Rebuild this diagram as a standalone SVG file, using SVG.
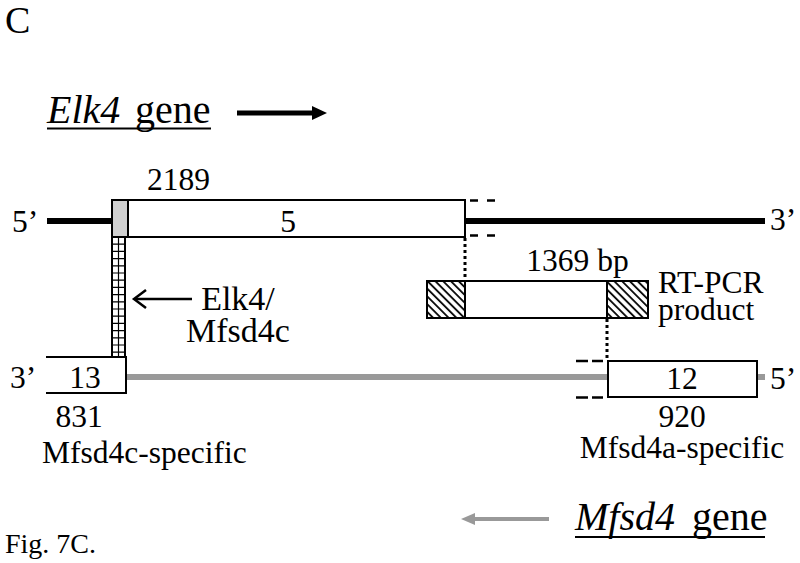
<svg xmlns="http://www.w3.org/2000/svg" width="800" height="563" viewBox="0 0 800 563">
<style>
text{font-family:"Liberation Serif","Times New Roman",serif;fill:#000}
.t{font-size:31.5px}
.big{font-size:40px}
.box{fill:#fff;stroke:#000;stroke-width:2}
.blk{stroke:#000;stroke-width:6;fill:none}
.gry{stroke:#999;stroke-width:6;fill:none}
.dash{stroke:#000;stroke-width:2.5;fill:none}
.dot{stroke:#000;stroke-width:3;stroke-dasharray:3 3;fill:none}
.edge{stroke:#000;stroke-width:2;fill:none}
</style>
<defs>
<pattern id="hatch" width="5.5" height="5.5" patternUnits="userSpaceOnUse" patternTransform="rotate(45)">
<rect width="5.5" height="5.5" fill="#fff"/>
<line x1="0" y1="1" x2="5.5" y2="1" stroke="#000" stroke-width="1.8"/>
</pattern>
</defs>
<rect width="800" height="563" fill="#fff"/>
<text x="5" y="33" style="font-size:38px">C</text>

<g id="elk4-title">
<text x="47" y="123" class="big" font-style="italic">Elk4</text>
<text x="135" y="123" class="big">gene</text>
<line x1="47" y1="128.5" x2="211" y2="128.5" stroke="#000" stroke-width="2"/>
<line x1="237" y1="113" x2="315" y2="113" stroke="#000" stroke-width="5"/>
<polygon points="327,113 312,106 312,120" fill="#000"/>
</g>

<g id="connectors">
<line class="blk" x1="47" y1="221" x2="112" y2="221"/>
<line class="blk" x1="465" y1="221" x2="765" y2="221"/>
<line class="gry" x1="126" y1="377" x2="608" y2="377"/>
<line class="gry" x1="757" y1="377" x2="765" y2="377"/>
<line class="dot" x1="465" y1="238" x2="465" y2="281"/>
<line class="dot" x1="607" y1="319" x2="607" y2="361"/>
<line class="dash" x1="470" y1="200.5" x2="497" y2="200.5" stroke-dasharray="8 9"/>
<line class="dash" x1="470" y1="235.5" x2="497" y2="235.5" stroke-dasharray="8 9"/>
<line class="dash" x1="576" y1="361" x2="603" y2="361" stroke-dasharray="12 4"/>
<line class="dash" x1="576" y1="397.5" x2="603" y2="397.5" stroke-dasharray="12 4"/>
</g>

<g id="exon5">
<rect class="box" x="112" y="200" width="353" height="37"/>
<rect x="113" y="201" width="15" height="35" fill="#d0d0d0" stroke="none"/>
<line class="edge" x1="128" y1="200" x2="128" y2="237"/>
<text x="12" y="232" class="t">5’</text>
<text x="178.5" y="190" class="t" text-anchor="middle">2189</text>
<text x="288" y="232" class="t" text-anchor="middle">5</text>
<text x="770" y="230" class="t">3’</text>
</g>

<g id="junction">
<rect x="112" y="237" width="13" height="120" fill="#fff" stroke="#000" stroke-width="2"/>
<line x1="118.5" y1="237" x2="118.5" y2="357" stroke="#000" stroke-width="1.2"/>
<path d="M112 244.2H125M112 251.4H125M112 258.6H125M112 265.8H125M112 273H125M112 280.2H125M112 287.4H125M112 294.6H125M112 301.8H125M112 309H125M112 316.2H125M112 323.4H125M112 330.6H125M112 337.8H125M112 345H125M112 352.2H125" stroke="#000" stroke-width="1.2" fill="none"/>
</g>

<g id="elk4-mfsd4c-label">
<line x1="135" y1="299" x2="192" y2="299" stroke="#000" stroke-width="2.5"/>
<polyline points="146,290 134,299 146,308" fill="none" stroke="#000" stroke-width="2.5"/>
<text x="238" y="310" style="font-size:34px" text-anchor="middle">Elk4/</text>
<text x="238" y="342" style="font-size:34px" text-anchor="middle">Mfsd4c</text>
</g>

<g id="rtpcr">
<rect class="box" x="427" y="281" width="221" height="37"/>
<rect x="427" y="281" width="38" height="37" fill="url(#hatch)" stroke="#000" stroke-width="2"/>
<rect x="607" y="281" width="41" height="37" fill="url(#hatch)" stroke="#000" stroke-width="2"/>
<text x="577.5" y="271" class="t" text-anchor="middle">1369 bp</text>
<text x="658" y="293" class="t">RT-PCR</text>
<text x="658" y="320" class="t">product</text>
</g>

<g id="exon13">
<path class="edge" d="M46 357H126V393H46"/>
<text x="10" y="388" class="t">3’</text>
<text x="85" y="388" class="t" text-anchor="middle">13</text>
<text x="79" y="427" class="t" text-anchor="middle">831</text>
<text x="42" y="463" class="t">Mfsd4c-specific</text>
</g>

<g id="exon12">
<rect class="box" x="608" y="361" width="149" height="36"/>
<text x="682" y="389" class="t" text-anchor="middle">12</text>
<text x="770" y="389" class="t">5’</text>
<text x="682" y="427" class="t" text-anchor="middle">920</text>
<text x="682" y="458" class="t" text-anchor="middle">Mfsd4a-specific</text>
</g>

<g id="mfsd4-title">
<line x1="472" y1="519" x2="549" y2="519" stroke="#999" stroke-width="4"/>
<polygon points="461,519 475,513 475,525" fill="#999"/>
<text x="575" y="530" class="big" font-style="italic">Mfsd4</text>
<text x="692" y="530" class="big">gene</text>
<line x1="575" y1="537" x2="765" y2="537" stroke="#000" stroke-width="2"/>
</g>

<text x="5" y="553" style="font-size:28px">Fig. 7C.</text>
</svg>
